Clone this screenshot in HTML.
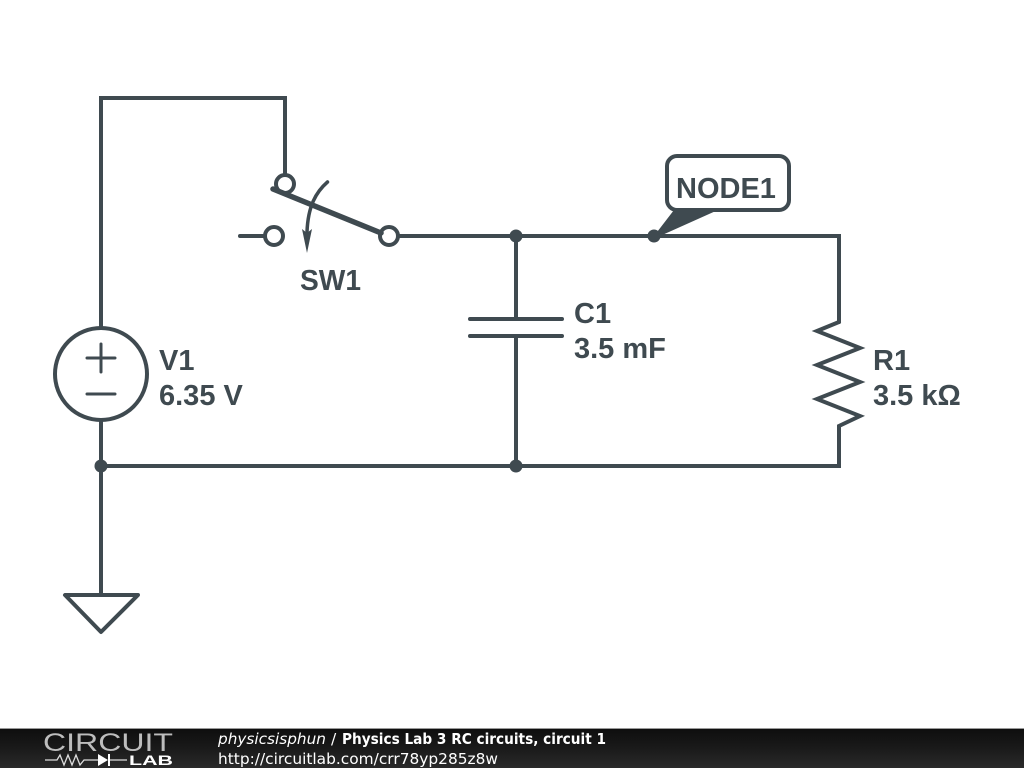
<!DOCTYPE html>
<html><head><meta charset="utf-8"><style>
html,body{margin:0;padding:0;background:#fff;width:1024px;height:768px;overflow:hidden}
svg{display:block}
.l{font-family:"Liberation Sans",Arial,sans-serif;font-weight:700;font-size:29px;fill:#3f4a50}
.f{font-family:"DejaVu Sans",sans-serif;font-size:15.5px;fill:#fff}
</style></head><body>
<svg width="1024" height="768" viewBox="0 0 1024 768" xmlns="http://www.w3.org/2000/svg">
<defs><linearGradient id="g" x1="0" y1="0" x2="0" y2="1"><stop offset="0" stop-color="#0e0e0e"/><stop offset="0.5" stop-color="#1a1a1a"/><stop offset="1" stop-color="#2a2a2a"/></linearGradient></defs>
<rect width="1024" height="768" fill="#fff"/>
<g fill="none" stroke="#3f4a50" stroke-width="4" stroke-linecap="round" stroke-linejoin="miter">
<path d="M101 327V98H285V175"/>
<path d="M240 236H265"/>
<path d="M398 236H839V322"/>
<path d="M516 236V319M516 337V466"/>
<path d="M470 319H562M470 336H562"/>
<path d="M839 322L817 331L860 348L817 365L860 382L817 399L860 416L839 426V466H101"/>
<path d="M101 420V595M65 595H138L101 632Z" stroke-linejoin="round"/>
<circle cx="101" cy="374" r="46"/>
<path d="M87 358H115M101 344V372M87 394H115" stroke-width="3"/>
<circle cx="285" cy="184" r="9"/>
<circle cx="274" cy="236" r="9"/>
<circle cx="389" cy="236" r="9"/>
<path d="M273 189L381 233" stroke-width="5.5"/>
<path d="M327.500 182C316 192 308 206 307 232" stroke-width="3.500"/>
<rect x="667" y="156" width="122" height="54" rx="10" fill="#fff"/>
</g>
<path d="M302 229L307 233L312 229L307 253Z" fill="#3f4a50"/>
<path d="M654 236L674 210H718L660 236Z" fill="#3f4a50"/>
<circle cx="654" cy="236" r="6.5" fill="#3f4a50"/>
<circle cx="516" cy="236" r="6.5" fill="#3f4a50"/>
<circle cx="516" cy="466" r="6.5" fill="#3f4a50"/>
<circle cx="101" cy="466" r="6.5" fill="#3f4a50"/>
<text class="l" x="676" y="198">NODE1</text>
<text class="l" x="300" y="290" textLength="61" lengthAdjust="spacingAndGlyphs">SW1</text>
<text class="l" x="574" y="323">C1</text>
<text class="l" x="574" y="358">3.5 mF</text>
<text class="l" x="159" y="370">V1</text>
<text class="l" x="159" y="405">6.35 V</text>
<text class="l" x="873" y="370">R1</text>
<text class="l" x="873" y="405">3.5 kΩ</text>
<rect y="729" width="1024" height="39" fill="url(#g)"/>
<rect y="728" width="1024" height="1" fill="#999"/>
<text x="43" y="751" font-family="'Liberation Sans',sans-serif" font-size="25" fill="#bdbdbd" textLength="130" lengthAdjust="spacingAndGlyphs">CIRCUIT</text>
<path d="M45 760H57L60 755L64 765L68 755L72 765L76 755L80 765L84 760H98M108 760H127" fill="none" stroke="#ddd" stroke-width="1.300"/>
<path d="M98 754L108 760L98 766Z" fill="#fff"/><path d="M109 754V766" stroke="#fff" stroke-width="2"/>
<text x="129" y="765" font-family="'Liberation Sans',sans-serif" font-size="14" font-weight="700" fill="#fff" textLength="44" lengthAdjust="spacingAndGlyphs">LAB</text>
<text class="f" x="218" y="744" font-style="italic" textLength="108" lengthAdjust="spacingAndGlyphs">physicsisphun</text>
<text class="f" x="331" y="744">/</text>
<text class="f" x="342" y="744" font-weight="700" textLength="264" lengthAdjust="spacingAndGlyphs">Physics Lab 3 RC circuits, circuit 1</text>
<text class="f" x="218" y="764" textLength="280" lengthAdjust="spacingAndGlyphs">http://circuitlab.com/crr78yp285z8w</text>
</svg>
</body></html>
